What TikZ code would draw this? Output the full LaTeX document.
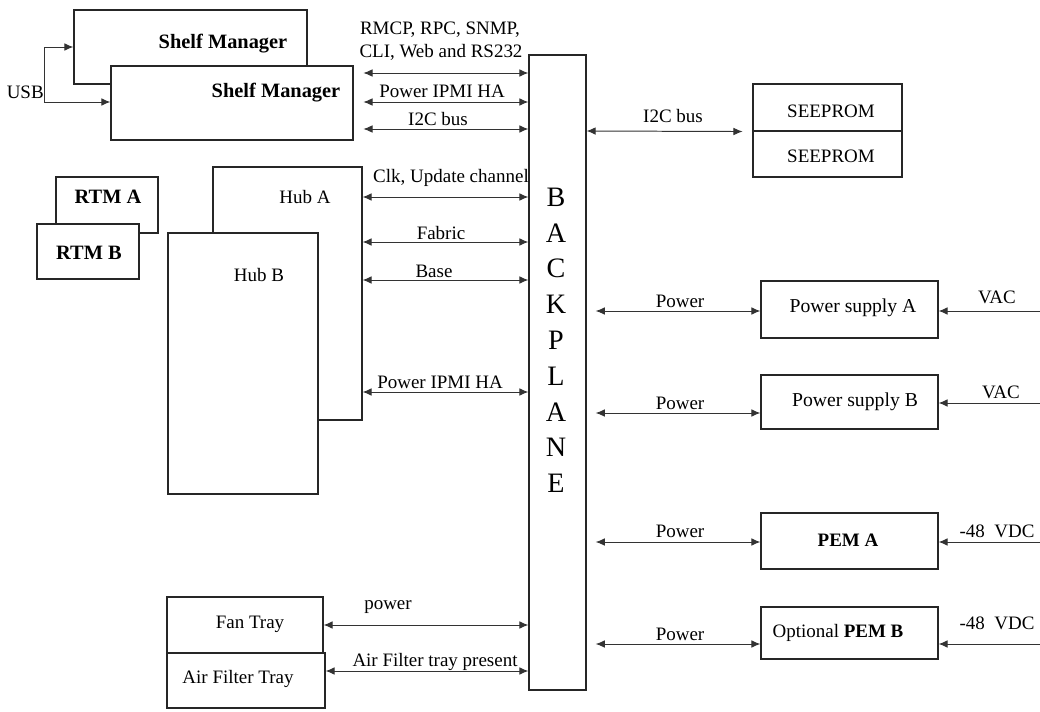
\documentclass[tikz,border=0pt]{standalone}
\usepackage{fontspec}
\setmainfont{Liberation Serif}
\usetikzlibrary{fit,arrows.meta}
\begin{document}
\begin{tikzpicture}[x=0.025cm,y=-0.025cm,
  box/.style={draw=black!85, line width=0.8pt, fill=white, inner sep=0pt},
  lbl/.style={inner sep=0pt, font=\fontsize{13.5}{16}\selectfont},
  bold/.style={inner sep=0pt, font=\bfseries\fontsize{14.5}{17}\selectfont},
  bpl/.style={inner sep=0pt, font=\fontsize{20}{22}\selectfont},
  tip/.tip={Latex[length=6.5pt,width=5.5pt]},
  bi/.style={draw=black!80, line width=0.7pt, tip-tip},
  one/.style={draw=black!80, line width=0.7pt, -tip},
]
\useasboundingbox (0,0) rectangle (1040,711);

% Shelf managers
\node[box, fit={(74,10) (307,84)}] (smB) {};
\node[box, fit={(111,66) (353,140)}] (smA) {};
\node[bold] (smBt) at (223,44) {Shelf Manager};
\node[bold] (smAt) at (276,93) {Shelf Manager};

% USB
\node[lbl, anchor=east] (usb) at (44,92) {USB};
\coordinate (usbT) at (44,47);
\coordinate (usbB) at (44,102);
\draw[one] (usbB) -- (usbT) -- (smB.west |- usbT);
\draw[one] (usbB) -- (smA.west |- usbB);

% RTM
\node[box, fit={(56,177) (158,233)}] (rtmA) {};
\node[box, fit={(37,224) (139,279)}] (rtmB) {};
\node[bold] (rtmAt) at (108,197) {RTM A};
\node[bold] (rtmBt) at (89,253) {RTM B};

% Hubs
\node[box, fit={(213,167) (362,420)}] (hubA) {};
\node[box, fit={(168,233) (318,494)}] (hubB) {};
\node[lbl] (hubAt) at (305,197) {Hub A};
\node[lbl] (hubBt) at (259,275) {Hub B};

% Fan / Air filter
\node[box, fit={(167,597) (323,653)}] (fan) {};
\node[box, fit={(167,653) (325,708)}] (air) {};
\node[lbl] (fant) at (250,624) {Fan Tray};
\node[lbl] (airt) at (238,679) {Air Filter Tray};

% Backplane
\node[box, fit={(529,55) (586,690)}] (bp) {};
\foreach \l [count=\i from 0] in {B,A,C,K,P,L,A,N,E}
  \node[bpl] (bp\i) at (556,197+35.8*\i) {\l};

% Left connectors
\draw[bi, shorten <=7pt] (smA.east |- 0,73) -- (bp.west |- 0,73);
\draw[bi, shorten <=7pt] (smA.east |- 0,102) -- (bp.west |- 0,102);
\draw[bi, shorten <=7pt] (smA.east |- 0,129) -- (bp.west |- 0,129);
\node[lbl] (l1) at (440,30) {RMCP, RPC, SNMP,};
\node[lbl] (l2) at (441,52) {CLI, Web and RS232};
\node[lbl] (l3) at (442,91) {Power IPMI HA};
\node[lbl] (l4) at (438,119) {I2C bus};

\draw[bi] (hubA.east |- 0,197) -- (bp.west |- 0,197);
\draw[bi] (hubA.east |- 0,242) -- (bp.west |- 0,242);
\draw[bi] (hubA.east |- 0,280) -- (bp.west |- 0,280);
\draw[bi] (hubA.east |- 0,392) -- (bp.west |- 0,392);
\node[lbl] (l5) at (451,178) {Clk, Update channel};
\node[lbl] (l6) at (441,233) {Fabric};
\node[lbl] (l7) at (434,271) {Base};
\node[lbl] (l8) at (440,382) {Power IPMI HA};

\draw[bi] (fan.east |- 0,625) -- (bp.west |- 0,625);
\draw[bi] (air.east |- 0,671) -- (bp.west |- 0,671);
\node[lbl] (l9) at (388,607) {power};
\node[lbl] (l10) at (435,662) {Air Filter tray present};

% SEEPROM
\node[box, fit={(753,84) (902,131)}] (se1) {};
\node[box, fit={(753,131) (902,177)}] (se2) {};
\node[lbl] (se1t) at (831,111) {SEEPROM};
\node[lbl] (se2t) at (831,156) {SEEPROM};
\draw[bi, shorten >=7pt] (bp.east |- 0,131) -- (se1.south west);
\node[lbl] (l11) at (673,116) {I2C bus};

% Power supplies / PEMs
\node[box, fit={(761,281) (938,338)}] (psA) {};
\node[box, fit={(761,375) (938,429)}] (psB) {};
\node[box, fit={(761,513) (938,569)}] (pemA) {};
\node[box, fit={(761,607) (938,659)}] (pemB) {};
\node[lbl, font=\fontsize{14}{16}\selectfont] (psAt) at (853,308) {Power supply A};
\node[lbl, font=\fontsize{14}{16}\selectfont] (psBt) at (855,402) {Power supply B};
\node[lbl] (pemAt) at (848,540) {\textbf{PEM A}};
\node[lbl] (pemBt) at (838,633) {Optional \textbf{PEM B}};

\draw[bi, shorten <=6.5pt] (bp.east |- 0,311) -- (psA.west |- 0,311);
\draw[bi, shorten <=6.5pt] (bp.east |- 0,413) -- (psB.west |- 0,413);
\draw[bi, shorten <=6.5pt] (bp.east |- 0,542) -- (pemA.west |- 0,542);
\draw[bi, shorten <=6.5pt] (bp.east |- 0,644) -- (pemB.west |- 0,644);
\node[lbl] (p1) at (680,301) {Power};
\node[lbl] (p2) at (680,403) {Power};
\node[lbl] (p3) at (680,531) {Power};
\node[lbl] (p4) at (680,634) {Power};

\coordinate (inA) at (1040,311);
\coordinate (inB) at (1040,403);
\coordinate (inC) at (1040,542);
\coordinate (inD) at (1040,644);
\draw[one] (inA) -- (psA.east |- inA);
\draw[one] (inB) -- (psB.east |- inB);
\draw[one] (inC) -- (pemA.east |- inC);
\draw[one] (inD) -- (pemB.east |- inD);
\node[lbl] (v1) at (997,297) {VAC};
\node[lbl] (v2) at (1001,392) {VAC};
\node[lbl] (v3) at (997,531) {-48~~VDC};
\node[lbl] (v4) at (997,623) {-48~~VDC};
\end{tikzpicture}
\end{document}
